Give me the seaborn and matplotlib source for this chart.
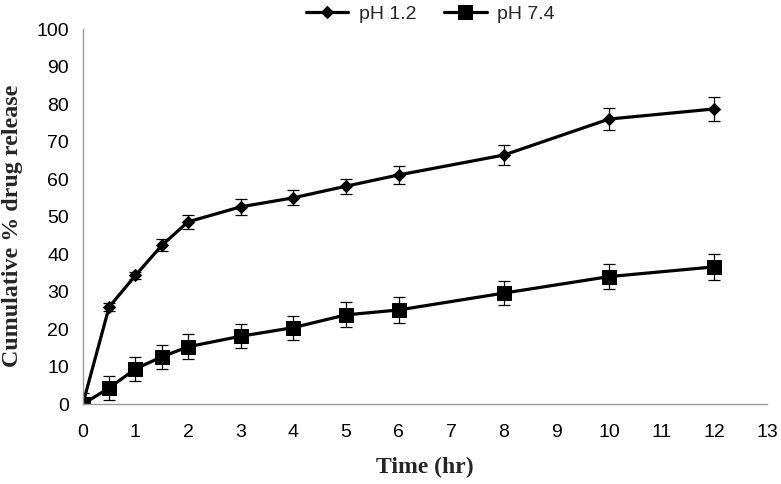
import matplotlib
matplotlib.use("Agg")
import matplotlib.pyplot as plt
import seaborn as sns
import pandas as pd
import numpy as np

time_hr = [0, 0.5, 1, 1.5, 2, 3, 4, 5, 6, 8, 10, 12]
ph12_release = [0, 25.9, 34.3, 42.3, 48.6, 52.6, 55.0, 58.1, 61.1, 66.4, 76.0, 78.7]
ph12_err = [0, 1.0, 1.0, 1.6, 1.8, 2.1, 2.0, 2.0, 2.4, 2.6, 2.9, 3.2]
ph74_release = [0, 4.3, 9.4, 12.6, 15.3, 18.1, 20.4, 23.8, 25.1, 29.6, 34.0, 36.6]
ph74_err = [3.1, 3.2, 3.3, 3.2, 3.3, 3.2, 3.2, 3.3, 3.4, 3.3, 3.3, 3.4]
series_labels = ["pH 1.2", "pH 7.4"]
x_ticks = list(range(0, 14))
y_ticks = list(range(0, 101, 10))

df = pd.DataFrame({
    "time": time_hr * 2,
    "release": ph12_release + ph74_release,
    "err": ph12_err + ph74_err,
    "series": [series_labels[0]] * len(time_hr) + [series_labels[1]] * len(time_hr),
})

sns.set_style("white")
plt.rcParams["font.family"] = ["Liberation Sans", "DejaVu Sans"]

fig = plt.figure(figsize=(7.81, 4.84), dpi=100)
ax = fig.add_axes([0.106, 0.165, 0.876, 0.775])

sns.lineplot(data=df, x="time", y="release", hue="series", style="series",
             markers={"pH 1.2": "D", "pH 7.4": "s"}, dashes=False,
             palette={"pH 1.2": "black", "pH 7.4": "black"},
             linewidth=2.3, ax=ax, errorbar=None, legend=True,
             markersize=9.5, markeredgecolor="black")
for line in ax.get_lines():
    if line.get_marker() == "D":
        line.set_markersize(6.5)

for s, vals, errs in [(series_labels[0], ph12_release, ph12_err),
                      (series_labels[1], ph74_release, ph74_err)]:
    ax.errorbar(time_hr, vals, yerr=errs, fmt="none", ecolor="black",
                elinewidth=0.9, capsize=4, capthick=0.9, zorder=1)

ax.set_xlim(0, 13)
ax.set_ylim(0, 100)
ax.set_xticks(x_ticks)
ax.set_yticks(y_ticks)
ax.tick_params(axis="both", labelsize=14, colors="#808080", length=5,
               width=1, direction="out", labelcolor="black")
ax.tick_params(axis="x", pad=9)
ax.tick_params(axis="y", pad=5)
for side in ["top", "right"]:
    ax.spines[side].set_visible(False)
for side in ["left", "bottom"]:
    ax.spines[side].set_color("#999999")
    ax.spines[side].set_linewidth(1)

ax.set_xlabel("Time (hr)", fontfamily="Liberation Serif", fontweight="bold",
              fontsize=17, labelpad=12)
ax.set_ylabel("Cumulative % drug release", fontfamily="Liberation Serif",
              fontweight="bold", fontsize=17.3)
ax.yaxis.set_label_coords(-0.088, 0.475)

handles, labels = ax.get_legend_handles_labels()
for h in handles:
    h.set_linewidth(2.3)
leg = ax.legend(handles, labels, loc="lower center", bbox_to_anchor=(0.508, 0.995),
                ncol=2, frameon=False, fontsize=14, handlelength=2.2,
                columnspacing=1.4, borderaxespad=0, handletextpad=0.55)

fig.savefig("out.png", dpi=100)
